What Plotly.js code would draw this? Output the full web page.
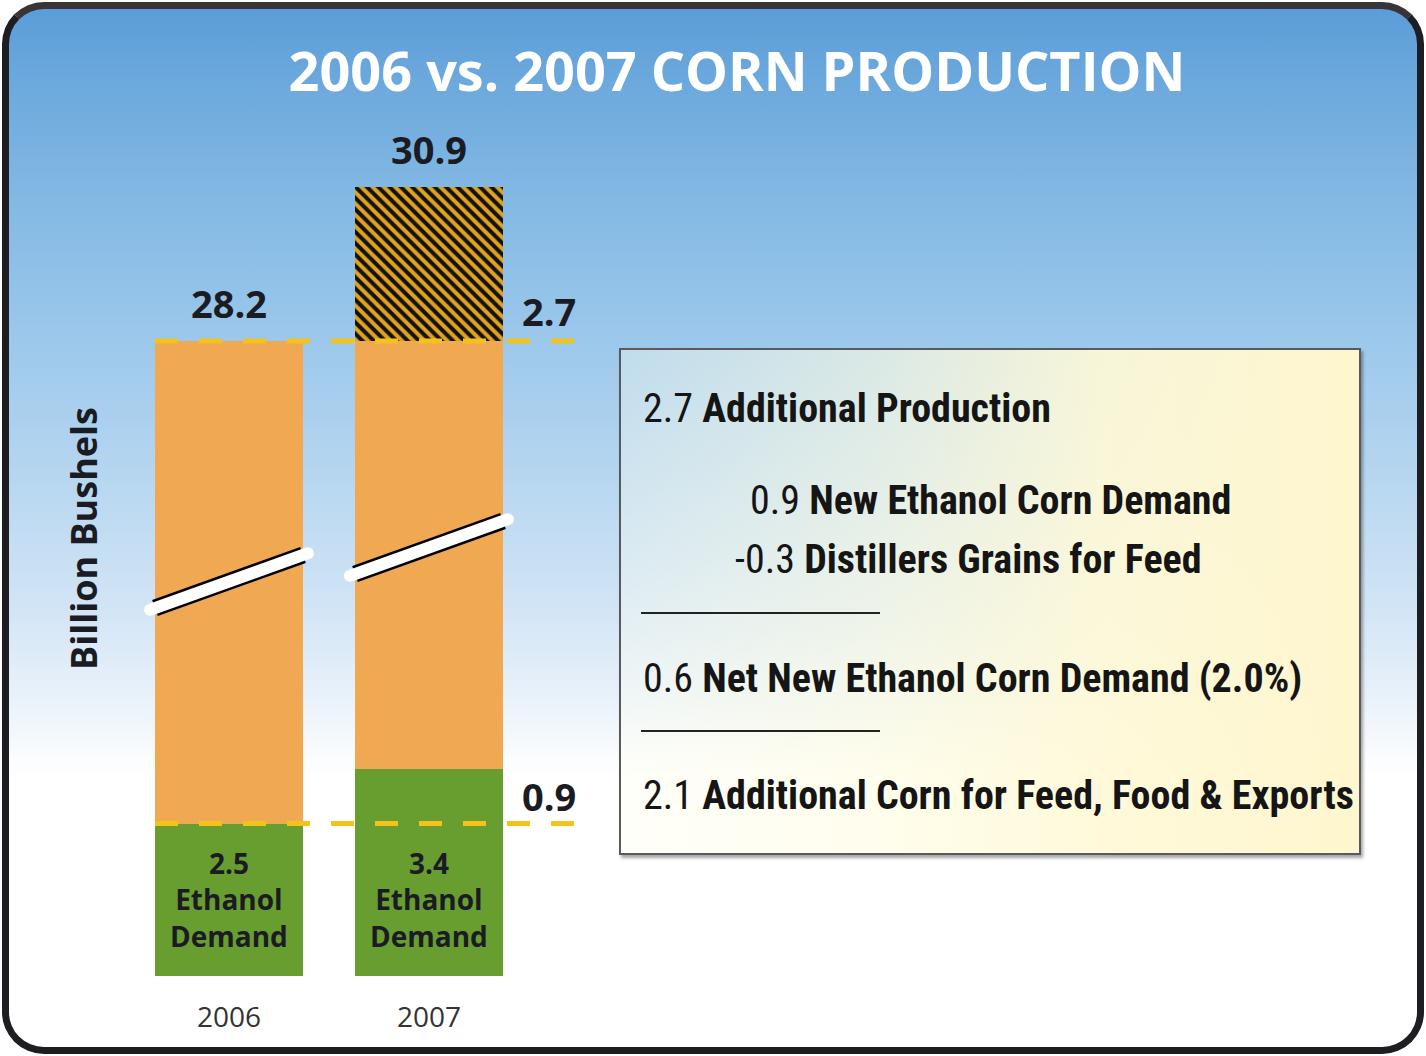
<!DOCTYPE html>
<html>
<head>
<meta charset="utf-8">
<script src="https://cdn.plot.ly/plotly-3.0.1.min.js"></script>
<style>
  html, body { margin: 0; padding: 0; background: #ffffff; }
  #wrap { position: relative; width: 1426px; height: 1056px; overflow: hidden; }
  #frame {
    position: absolute; left: 2px; top: 2px; width: 1408px; height: 1038px;
    border: 7px solid #1e1e22; border-top-color: #3a3436; border-radius: 42px;
    background: linear-gradient(to bottom, #5b9dd8 0%, #6eaadd 8%, #86bbe5 20%, #9cc8eb 32%, #b6d6f0 45%, #d0e4f5 57%, #e8f1fa 66%, #f7fafd 71%, #ffffff 74%, #ffffff 100%);
  }
  #box {
    position: absolute; left: 619px; top: 348px; width: 738px; height: 503px;
    border: 2px solid #5a5a5a;
    box-shadow: 2px 3px 3px rgba(0,0,0,0.35);
    background: linear-gradient(to right, rgba(255,255,240,0.35) 0%, rgba(255,252,225,0.62) 35%, rgba(255,249,215,0.92) 65%, rgba(254,246,206,1) 100%);
  }
  #chart { position: absolute; left: 0; top: 0; width: 1426px; height: 1056px; }
</style>
</head>
<body>
<div id="wrap">
  <div id="frame"></div>
  <div id="box"></div>
  <div id="chart"></div>
</div>
<script>
// ---- data ----
var years = ['2006', '2007'];
var ethanolDemand = [2.5, 3.4];          // billion bushels used for ethanol
var totalProduction = [28.2, 30.9];      // total corn production
var additionalProduction = [0, 2.7];     // extra production in 2007 (hatched)
var ethanolLabels = ['2.5<br>Ethanol<br>Demand', '3.4<br>Ethanol<br>Demand'];
var newEthanolDemand = 0.9;              // 3.4 - 2.5
var legendValues = ['2.7', '0.9', '-0.3', '0.6', '2.1'];
var legendTexts = ['Additional Production', 'New Ethanol Corn Demand', 'Distillers Grains for Feed',
                   'Net New Ethanol Corn Demand (2.0%)', 'Additional Corn for Feed, Food & Exports'];

var otherUse = totalProduction.map(function (t, i) { return +(t - ethanolDemand[i] - additionalProduction[i]).toFixed(2); });
var baseTotal = totalProduction.map(function (t, i) { return +(t - additionalProduction[i]).toFixed(2); });

// ---- styles ----
var GREEN = '#689e2f', ORANGE = '#f0a853', GOLD = '#e1a31d', DASH = '#f3c21b', INK = '#1b1b24';
var boldFont = 'Open Sans, DejaVu Sans, sans-serif';
var narrow = 'Roboto Condensed, Roboto, Liberation Sans, sans-serif';

function px2paper(py) { return (1056 - py) / 1056; }

var traces = [];
['y', 'y2'].forEach(function (ya) {
  traces.push({ type: 'bar', x: years, y: ethanolDemand, yaxis: ya, xaxis: 'x',
    marker: { color: GREEN, line: { width: 0 } }, hoverinfo: 'skip', showlegend: false });
  traces.push({ type: 'bar', x: years, y: otherUse, yaxis: ya, xaxis: 'x',
    marker: { color: ORANGE, line: { width: 0 } }, hoverinfo: 'skip', showlegend: false });
  traces.push({ type: 'bar', x: years, y: additionalProduction, yaxis: ya, xaxis: 'x',
    marker: { color: GOLD, line: { width: 0 },
      pattern: { shape: '\\', fillmode: 'replace', fgcolor: '#111111', bgcolor: GOLD, size: 8, solidity: 0.5 } },
    hoverinfo: 'skip', showlegend: false });
});

var shapes = [];
// dashed reference lines at 2006 levels
shapes.push({ type: 'line', xref: 'x', yref: 'y2', x0: -0.37, x1: 1.78, y0: totalProduction[0], y1: totalProduction[0],
  line: { color: DASH, width: 5, dash: '23px,21px' }, layer: 'above' });
shapes.push({ type: 'line', xref: 'x', yref: 'y', x0: -0.37, x1: 1.78, y0: ethanolDemand[0], y1: ethanolDemand[0],
  line: { color: DASH, width: 5, dash: '23px,21px' }, layer: 'above' });

// axis break marks
var breaks = [[0, 608, 555], [1, 574, 521]];
breaks.forEach(function (b) {
  var xl = b[0] - 0.37, xr = b[0] + 0.37;
  var yl = px2paper(b[1]), yr = px2paper(b[2]);
  shapes.push({ type: 'line', xref: 'x', yref: 'paper', x0: xl, x1: xr, y0: yl, y1: yr,
    line: { color: '#000000', width: 17 }, layer: 'above' });
  var dx = 0.025, slope = (yr - yl) / (xr - xl);
  shapes.push({ type: 'line', xref: 'x', yref: 'paper', x0: xl - dx, x1: xr + dx, y0: yl - dx * slope, y1: yr + dx * slope,
    line: { color: '#ffffff', width: 12 }, layer: 'above' });
  [[xl - dx, yl - dx * slope], [xr + dx, yr + dx * slope]].forEach(function (p) {
    shapes.push({ type: 'circle', xref: 'x', yref: 'paper', xsizemode: 'pixel', ysizemode: 'pixel',
      xanchor: p[0], yanchor: p[1], x0: -6, x1: 6, y0: -6, y1: 6,
      fillcolor: '#ffffff', line: { width: 0 }, layer: 'above' });
  });
});

// separator lines in explanation box
[613, 731].forEach(function (py) {
  shapes.push({ type: 'line', xref: 'paper', yref: 'paper', x0: 641 / 1426, x1: 880 / 1426, y0: px2paper(py), y1: px2paper(py),
    line: { color: '#222222', width: 2 } });
});

var annotations = [];
// totals above bars
totalProduction.forEach(function (t, i) {
  annotations.push({ x: i, y: t, xref: 'x', yref: 'y2', text: '<b>' + t.toFixed(1) + '</b>',
    showarrow: false, xanchor: 'center', yanchor: 'bottom', yshift: 10, font: { family: boldFont, size: 38, color: INK } });
});
// differences to the right
annotations.push({ x: 1.6, y: baseTotal[1], xref: 'x', yref: 'y2', text: '<b>' + additionalProduction[1].toFixed(1) + '</b>',
  showarrow: false, xanchor: 'center', yanchor: 'bottom', yshift: 2, font: { family: boldFont, size: 38, color: INK } });
annotations.push({ x: 1.6, y: ethanolDemand[0], xref: 'x', yref: 'y', text: '<b>' + newEthanolDemand.toFixed(1) + '</b>',
  showarrow: false, xanchor: 'center', yanchor: 'bottom', yshift: 0, font: { family: boldFont, size: 38, color: INK } });
// labels inside green bars
ethanolLabels.forEach(function (lbl, i) {
  annotations.push({ x: i, y: ethanolDemand[0] / 2, xref: 'x', yref: 'y', text: '<b>' + lbl + '</b>',
    showarrow: false, xanchor: 'center', yanchor: 'middle', align: 'center',
    font: { family: boldFont, size: 28, color: INK } });
});
// y-axis title
annotations.push({ x: 83 / 1426, y: px2paper(539), xref: 'paper', yref: 'paper', text: '<b>Billion Bushels</b>', textangle: -90,
  showarrow: false, xanchor: 'center', yanchor: 'middle', font: { family: boldFont, size: 36, color: INK } });
// explanation lines
var legendStart = annotations.length;
var legendPos = [[641, 408], [748, 500], [733, 559], [641, 678], [641, 795]];
legendValues.forEach(function (v, i) {
  annotations.push({ x: legendPos[i][0] / 1426, y: px2paper(legendPos[i][1]), xref: 'paper', yref: 'paper',
    xanchor: 'left', yanchor: 'middle', showarrow: false, align: 'left',
    text: '<span style="font-weight:400">' + v + '</span> <b>' + legendTexts[i].replace('&', '&amp;') + '</b>',
    font: { family: narrow, size: 40, color: '#151515' } });
});

var layout = {
  width: 1426, height: 1056,
  margin: { l: 0, r: 0, t: 0, b: 0 },
  paper_bgcolor: 'rgba(0,0,0,0)', plot_bgcolor: 'rgba(0,0,0,0)',
  barmode: 'stack', bargap: 0.26,
  showlegend: false,
  title: { text: '<b>2006 vs. 2007 CORN PRODUCTION</b>', x: 737 / 1426, xanchor: 'center', y: px2paper(72), yanchor: 'middle',
    font: { family: boldFont, size: 54, color: '#ffffff' } },
  xaxis: { type: 'category', domain: [129 / 1426, 601 / 1426], range: [-0.5, 1.86], anchor: 'y',
    showgrid: false, zeroline: false, showline: false, ticks: '', ticklabelstandoff: 22,
    tickfont: { family: 'Open Sans, sans-serif', size: 28, color: '#333333' }, fixedrange: true },
  yaxis: { domain: [px2paper(976), px2paper(565)], range: [0, (976 - 565) / 61], anchor: 'x',
    visible: false, showgrid: false, zeroline: false },
  yaxis2: { domain: [px2paper(565), px2paper(130)], range: [28.2 - (565 - 341) / 57, 28.2 + (341 - 130) / 57], anchor: 'x',
    visible: false, showgrid: false, zeroline: false },
  shapes: shapes,
  annotations: annotations
};

Plotly.newPlot('chart', traces, layout, { displayModeBar: false, staticPlot: true }).then(function (gd) {
  // keep the explanation lines at the original width if a wider fallback font is used
  var targetWidth = 706;
  var texts = [];
  for (var i = 0; i < legendValues.length; i++) {
    var g = gd.querySelector('g.annotation[data-index="' + (legendStart + i) + '"] text.annotation-text');
    if (g) texts.push(g);
  }
  if (!texts.length) return;
  var w = texts[texts.length - 1].getBBox().width;
  var s = w > 0 ? Math.min(1, targetWidth / w) : 1;
  if (s < 0.98) {
    texts.forEach(function (t) {
      t.style.transformBox = 'fill-box';
      t.style.transformOrigin = 'left center';
      t.style.transform = 'scaleX(' + s.toFixed(4) + ')';
    });
  }
});
</script>
</body>
</html>
